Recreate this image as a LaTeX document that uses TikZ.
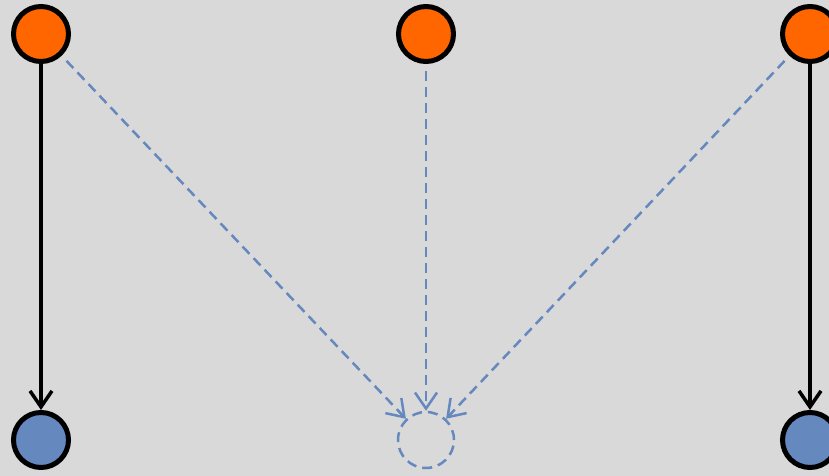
\documentclass[tikz,border=0pt]{standalone}
\usepackage{xcolor}
\usepackage{tikz}
\usetikzlibrary{arrows.meta,positioning}
\definecolor{bgrey}{RGB}{217,217,217}
\definecolor{dorange}{RGB}{255,102,0}
\definecolor{dblue}{RGB}{101,136,191}
\tikzset{
  srcnode/.style={draw=black, circle, line width=5pt, fill=dorange, minimum size=55pt, inner sep=0pt},
  tgtnode/.style={draw=black, circle, line width=5pt, fill=dblue, minimum size=55pt, inner sep=0pt},
  ghostnode/.style={draw=dblue, circle, line width=2.5pt, dash pattern=on 10pt off 6pt, minimum size=56pt, inner sep=0pt},
  solidarrow/.style={-{Straight Barb[length=16pt,width=22pt,line width=3.5pt]}, line width=3.5pt, black},
  dasharrow/.style={-{Straight Barb[length=16pt,width=22pt,line width=2.5pt]}, line width=2.5pt, dblue, dash pattern=on 10pt off 6pt, shorten <=7pt}
}
\begin{document}
\begin{tikzpicture}[x=1pt,y=1pt]
\fill[bgrey] (0,0) rectangle (829,476);
\useasboundingbox (0,0) rectangle (829,476);
\node[srcnode] (s1) at (41,442) {};
\node[srcnode] (s2) at (426,442) {};
\node[srcnode] (s3) at (810,442) {};
\node[tgtnode] (t1) at (41,36) {};
\node[ghostnode] (t2) at (426,36) {};
\node[tgtnode] (t3) at (810,36) {};

\draw[solidarrow] (s1) -- (t1);
\draw[solidarrow] (s3) -- (t3);
\draw[dasharrow] (s1) -- (t2);
\draw[dasharrow] (s2) -- (t2);
\draw[dasharrow] (s3) -- (t2);
\end{tikzpicture}
\end{document}
